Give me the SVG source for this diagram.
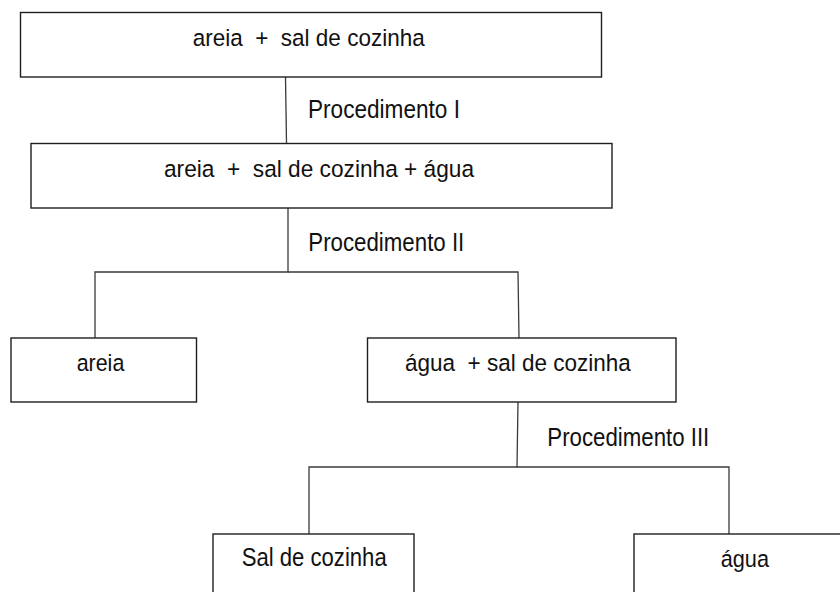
<svg xmlns="http://www.w3.org/2000/svg" width="840" height="592" viewBox="0 0 840 592">
<style>
.box{fill:#fff;stroke:#1e1e1e;stroke-width:1.4}
.t{font-family:"Liberation Sans",Arial,sans-serif;font-size:24.5px;fill:#111}
.lb{font-family:"Liberation Sans",Arial,sans-serif;font-size:25.5px;fill:#111}
.c{fill:none;stroke:#3a3a3a;stroke-width:1.3}
</style>
<rect width="840" height="592" fill="#fff"/>
<g id="connectors">
<line class="c" x1="285.5" y1="77" x2="286.5" y2="143"/>
<polyline class="c" points="288,208 288,272 95,272 95,338"/>
<polyline class="c" points="288,272 518,272 519,338"/>
<polyline class="c" points="518,402 517,467 309,467 309,534"/>
<polyline class="c" points="517,467 729,467 729,534"/>
<text class="lb" x="308" y="118.3" textLength="152" lengthAdjust="spacingAndGlyphs">Procedimento I</text>
<text class="lb" x="308.3" y="251" textLength="156" lengthAdjust="spacingAndGlyphs">Procedimento II</text>
<text class="lb" x="547.3" y="446" textLength="162" lengthAdjust="spacingAndGlyphs">Procedimento III</text>
</g>
<g id="n1">
<rect class="box" x="20.5" y="12.5" width="581" height="64.5"/>
<text class="t" x="192.7" y="45.7" textLength="232" lengthAdjust="spacingAndGlyphs" xml:space="preserve">areia  +  sal de cozinha</text>
</g>
<g id="n2">
<rect class="box" x="31" y="143.5" width="581" height="64.5"/>
<text class="t" x="164" y="176.7" textLength="310" lengthAdjust="spacingAndGlyphs" xml:space="preserve">areia  +  sal de cozinha + água</text>
</g>
<g id="n3">
<rect class="box" x="11" y="338" width="185.5" height="64"/>
<text class="t" x="76.7" y="370.7" textLength="47.6" lengthAdjust="spacingAndGlyphs">areia</text>
</g>
<g id="n4">
<rect class="box" x="367.5" y="338" width="308.5" height="64"/>
<text class="t" x="405" y="370.7" textLength="225.7" lengthAdjust="spacingAndGlyphs" xml:space="preserve">água  + sal de cozinha</text>
</g>
<g id="n5">
<rect class="box" x="213" y="534" width="201" height="70"/>
<text class="lb" x="241.7" y="566" textLength="145" lengthAdjust="spacingAndGlyphs">Sal de cozinha</text>
</g>
<g id="n6">
<rect class="box" x="634" y="534" width="220" height="70"/>
<text class="t" x="720.7" y="566.7" textLength="48.3" lengthAdjust="spacingAndGlyphs">água</text>
</g>
</svg>
